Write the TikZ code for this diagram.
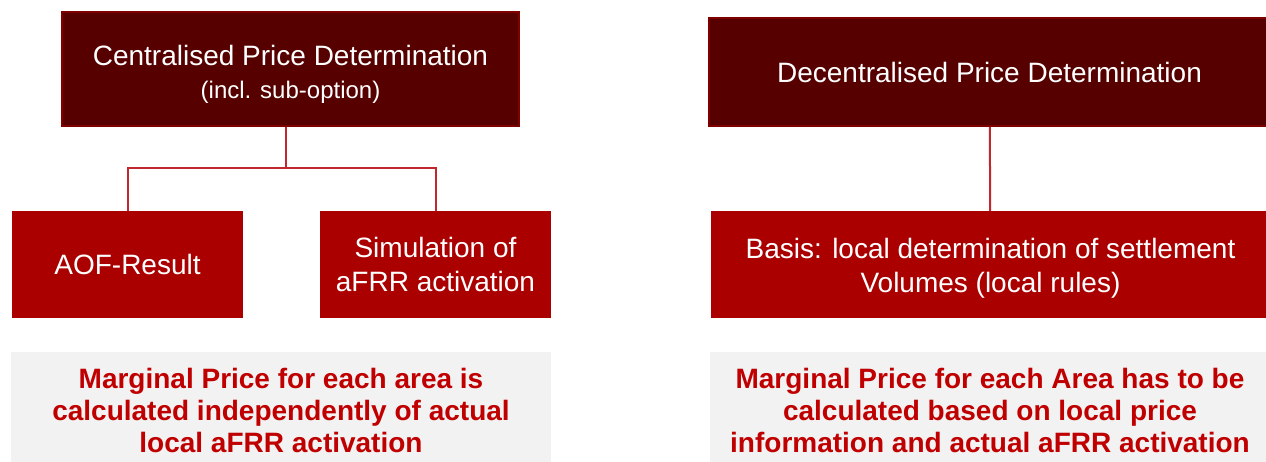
\documentclass[tikz,border=0pt]{standalone}
\usepackage{fontspec}
\setmainfont{Liberation Sans}
\usepackage{tikz}
\usetikzlibrary{positioning}
\definecolor{darkred}{RGB}{86,0,0}
\definecolor{darkedge}{RGB}{128,0,0}
\definecolor{boxred}{RGB}{170,0,0}
\definecolor{linered}{RGB}{192,40,45}
\definecolor{textred}{RGB}{192,0,0}
\definecolor{notegray}{RGB}{242,242,242}
\tikzstyle{method} = [rectangle, minimum height=108pt, text centered, align=center, draw=darkedge, line width=2pt, fill=darkred, text=white, font=\fontsize{28}{33}\selectfont]
\tikzstyle{basis} = [rectangle, minimum height=107pt, text centered, align=center, fill=boxred, text=white, font=\fontsize{28}{34}\selectfont]
\tikzstyle{note} = [rectangle, minimum height=116pt, text centered, align=center, fill=notegray, text=textred, font=\bfseries\fontsize{28}{32}\selectfont]
\tikzstyle{line} = [draw=linered, line width=2pt]

\begin{document}
\begin{tikzpicture}[x=1pt, y=-1pt]
\useasboundingbox (0,0) rectangle (1266,461);

\node (cpd) [method, minimum width=457pt, minimum height=114pt, text height=64pt] at (290.5,69) {Centralised Price Determination\\{\fontsize{24}{28}\selectfont (incl. sub-option)}};
\node (aof) [basis, minimum width=231pt] at (127.5,264.5) {AOF-Result};
\node (sim) [basis, minimum width=231pt] at (435.5,264.5) {Simulation of\\aFRR activation};
\node (note1) [note, minimum width=540pt] at (281,410) {Marginal Price for each area is\\calculated independently of actual\\local aFRR activation};

\node (dpd) [method, minimum width=561pt] at (989.5,72) {Decentralised Price Determination};
\node (bas) [basis, minimum width=559pt, text height=62.5pt] at (990.5,264.5) {Basis: local determination of settlement\\Volumes (local rules)};
\node (note2) [note, minimum width=560pt] at (990,410) {Marginal Price for each Area has to be\\calculated based on local price\\information and actual aFRR activation};

\coordinate (split) at (286,168);

\draw [line] (cpd.south -| split) -- (split);
\draw [line] (split) -| (aof.north);
\draw [line] (split) -| (sim.north);
\draw [line] (dpd) -- (bas);

\end{tikzpicture}
\end{document}
